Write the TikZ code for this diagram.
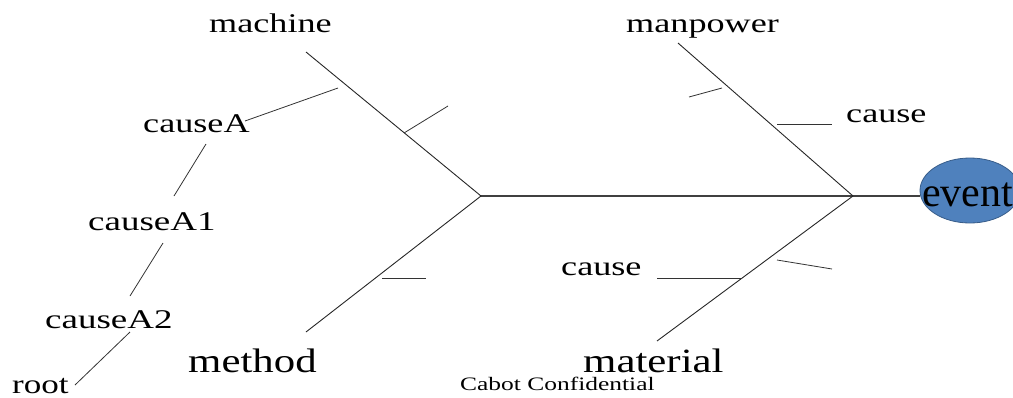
\documentclass[tikz,border=0pt]{standalone}
\usepackage{fontspec}
\setmainfont{Liberation Serif}
\usepackage{graphicx}
\usetikzlibrary{shapes.geometric}
% horizontally widened text
\newcommand{\wtxt}[2]{\scalebox{#1}[1]{#2}}
\definecolor{evfill}{RGB}{79,129,189}
\definecolor{evline}{RGB}{56,93,138}

\begin{document}
\begin{tikzpicture}[x=1pt,y=-1pt,
  bone/.style={draw=black!85, line width=0.9pt},
  spine/.style={draw=black!75, line width=1.3pt},
  twig/.style={draw=black!80, line width=0.8pt},
  lbl/.style={inner sep=0, anchor=base west, font=\fontsize{27}{27}\selectfont},
  biglbl/.style={inner sep=0, anchor=base west, font=\fontsize{34}{34}\selectfont},
  smalllbl/.style={inner sep=0, anchor=base west, font=\fontsize{19}{19}\selectfont},
]
\useasboundingbox (0,0) rectangle (1013,397);
\clip (0,0) rectangle (1013,397);

% event head
\node[ellipse, draw=evline, fill=evfill, line width=0.8pt,
      minimum width=100pt, minimum height=65pt, inner sep=0] (evt) at (970,190.5) {};
\node[inner sep=0, anchor=base west, font=\fontsize{42}{42}\selectfont] (evtxt) at (922,206) {event};

% labels
\node[lbl] (machine)  at (209,32)  {\wtxt{1.34}{machine}};
\node[lbl] (manpower) at (626,32)  {\wtxt{1.34}{manpower}};
\node[lbl] (causeA)   at (143,132) {\wtxt{1.34}{causeA}};
\node[lbl] (causeT)   at (846,122) {\wtxt{1.34}{cause}};
\node[lbl] (causeA1)  at (88,230)  {\wtxt{1.37}{causeA1}};
\node[lbl] (causeA2)  at (45,328)  {\wtxt{1.37}{causeA2}};
\node[lbl] (root)     at (12,393)  {\wtxt{1.30}{root}};
\node[lbl] (causeB)   at (561,275) {\wtxt{1.34}{cause}};
\node[biglbl] (method)   at (188,372) {\wtxt{1.26}{method}};
\node[biglbl] (material) at (583,372) {\wtxt{1.26}{material}};
\node[smalllbl] (conf) at (460,390) {\wtxt{1.34}{Cabot Confidential}};

% junctions and bone ends
\coordinate (J1) at (481,196);
\coordinate (J2) at (853,196);
\coordinate (mach) at (306,52);
\coordinate (meth) at (306,332);
\coordinate (manp) at (678,43);
\coordinate (matr) at (657,341);

% spine and main bones
\draw[spine] (J1) -- (J1 -| evt.west);
\draw[bone] (mach) -- (J1);
\draw[bone] (meth) -- (J1);
\draw[bone] (manp) -- (J2);
\draw[bone] (matr) -- (J2);

% sub-cause twigs
\coordinate (t1a) at (404,133); \coordinate (t1b) at (448,106);
\coordinate (t2a) at (382,278); \coordinate (t2b) at (426,278);
\coordinate (t3a) at (722,88);  \coordinate (t3b) at (689,97);
\coordinate (t4a) at (777,124); \coordinate (t4b) at (832,124);
\coordinate (t5a) at (742,278); \coordinate (t5b) at (657,278);
\coordinate (t6a) at (777,260); \coordinate (t6b) at (832,269);
\draw[twig] (t1a) -- (t1b);
\draw[twig] (t2a) -- (t2b);
\draw[twig] (t3a) -- (t3b);
\draw[twig] (t4a) -- (t4b);
\draw[twig] (t5a) -- (t5b);
\draw[twig] (t6a) -- (t6b);

% causal chain
\coordinate (cA0) at (338,88);  \coordinate (cA)  at (245,121);
\coordinate (cA1a) at (206,144); \coordinate (cA1b) at (174,196);
\coordinate (cA2a) at (163,243); \coordinate (cA2b) at (130,296);
\coordinate (cRa) at (130,332);  \coordinate (cRb) at (75,385);
\draw[twig] (cA0) -- (cA);
\draw[twig] (cA1a) -- (cA1b);
\draw[twig] (cA2a) -- (cA2b);
\draw[twig] (cRa) -- (cRb);
\end{tikzpicture}
\end{document}
